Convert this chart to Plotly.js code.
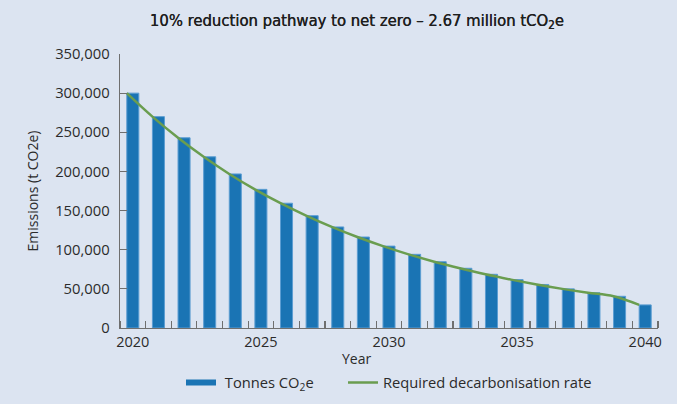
<!DOCTYPE html>
<html>
<head>
<meta charset="utf-8">
<script src="https://cdn.plot.ly/plotly-3.0.1.min.js"></script>
<style>
html, body { margin: 0; padding: 0; background: #dce4f1; }
#chart { width: 677px; height: 404px; }
</style>
</head>
<body>
<div id="chart"></div>
<script>
// values
const years = [2020, 2021, 2022, 2023, 2024, 2025, 2026, 2027, 2028, 2029, 2030,
               2031, 2032, 2033, 2034, 2035, 2036, 2037, 2038, 2039, 2040];
const tonnes = [300000, 270000, 243000, 218700, 196800, 177100, 159400, 143500, 129100, 116200, 104600,
                94100, 84700, 76300, 68600, 61800, 55600, 50000, 45000, 40500, 29500];
const pathway = [300000, 270000, 243000, 218700, 196800, 177100, 159400, 143500, 129100, 116200, 104600,
                 94100, 84700, 76300, 68600, 61800, 55600, 50000, 45000, 40500, 29500];

const barColor = '#1a74b4';
const lineColor = '#6a9d4f';
const axisColor = '#6f6f6f';
const textColor = '#2b2b2b';

const bars = {
    type: 'bar',
    x: years,
    y: tonnes,
    width: 0.47,
    marker: {color: barColor, line: {color: '#5c9dd2', width: 1}},
    showlegend: false,
    hoverinfo: 'x+y'
};

// legend entry only, so the key looks like a flat bar as in the original
const barKey = {
    type: 'scatter',
    mode: 'lines',
    x: [null],
    y: [null],
    name: '&nbsp;Tonnes CO<sub>2</sub>e',
    legend: 'legend',
    line: {color: barColor, width: 6}
};

const rate = {
    type: 'scatter',
    mode: 'lines',
    x: years,
    y: pathway,
    xaxis: 'x2',
    name: 'Required decarbonisation rate',
    legend: 'legend2',
    line: {color: lineColor, width: 2.5, shape: 'spline', smoothing: 1}
};

const legendBase = {
    orientation: 'h',
    xref: 'container',
    xanchor: 'left',
    yref: 'container',
    y: 0.052,
    yanchor: 'middle',
    itemwidth: 30,
    font: {size: 14.7},
    bgcolor: 'rgba(0,0,0,0)'
};

const layout = {
    width: 677,
    height: 404,
    paper_bgcolor: '#dce4f1',
    plot_bgcolor: '#dce4f1',
    font: {family: 'Open Sans, sans-serif', size: 14, color: textColor},
    margin: {l: 120, r: 19, t: 54, b: 76},
    title: {
        text: '10% reduction pathway to net zero – 2.67 million tCO<sub>2</sub>e',
        font: {family: 'DejaVu Sans Condensed, DejaVu Sans, sans-serif', size: 16.5, color: '#1e1e1e',
               shadow: '0.35px 0 0 #1e1e1e'},
        xref: 'container',
        x: 0.527,
        xanchor: 'center',
        y: 0.95,
        yanchor: 'middle'
    },
    xaxis: {
        range: [2019.5, 2040.5],
        tickmode: 'linear',
        tick0: 2020,
        dtick: 5,
        ticks: '',
        tickfont: {size: 14.5},
        showline: true,
        linecolor: axisColor,
        linewidth: 1.3,
        showgrid: false,
        zeroline: false,
        minor: {
            tickmode: 'linear',
            tick0: 2019.5,
            dtick: 1,
            ticks: 'inside',
            ticklen: 7,
            tickwidth: 1.2,
            tickcolor: axisColor,
            showgrid: false
        }
    },
    xaxis2: {
        overlaying: 'x',
        range: [2019.735, 2040.735],
        visible: false
    },
    yaxis: {
        range: [0, 350000],
        dtick: 50000,
        tickformat: ',',
        ticks: 'inside',
        ticklen: 7,
        tickwidth: 1.2,
        tickcolor: axisColor,
        tickfont: {size: 14.8},
        ticklabelstandoff: 6,
        showline: true,
        linecolor: axisColor,
        linewidth: 1.3,
        showgrid: false,
        zeroline: false,
        title: {text: 'Emissions (t CO2e)', font: {size: 14}, standoff: 13}
    },
    legend: Object.assign({}, legendBase, {x: 181 / 677}),
    legend2: Object.assign({}, legendBase, {x: 343 / 677}),
    annotations: [{
        text: 'Year',
        xref: 'paper',
        yref: 'paper',
        x: 0.4405,
        y: -0.112,
        xanchor: 'center',
        yanchor: 'middle',
        showarrow: false,
        font: {size: 14}
    }]
};

Plotly.newPlot('chart', [bars, barKey, rate], layout, {displayModeBar: false, staticPlot: true});
</script>
</body>
</html>
